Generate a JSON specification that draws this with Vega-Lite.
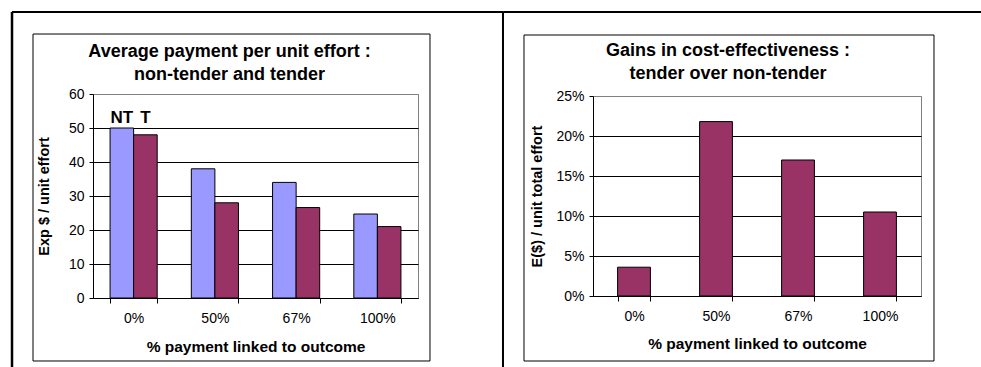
{
  "$schema": "https://vega.github.io/schema/vega-lite/v6.json",
  "background": "white",
  "padding": {"left": 10, "top": 10, "right": 0, "bottom": 0},
  "spacing": 175,
  "bounds": "flush",
  "center": true,
  "hconcat": [
    {
      "width": 325,
      "height": 204,
      "title": {"text": ["Average payment per unit effort :", "non-tender and tender"], "dx": -26, "offset": -73},
      "layer": [
        {
          "data": {"values": [{}]},
          "layer": [
            {
              "mark": {"type": "rect", "fillOpacity": 0, "stroke": "black", "strokeWidth": 1},
              "encoding": {
                "x": {"datum": -0.1846, "type": "quantitative", "scale": {"domain": [0, 1], "nice": false, "zero": false}, "axis": null},
                "x2": {"datum": 1.0369},
                "y": {"datum": 1.294, "type": "quantitative", "scale": {"domain": [0, 1], "nice": false, "zero": false}, "axis": null},
                "y2": {"datum": -0.3088}
              }
            },
            {
              "mark": {"type": "rule", "stroke": "black", "strokeWidth": 2.5},
              "encoding": {
                "x": {"datum": -0.2492, "type": "quantitative"},
                "y": {"datum": 1.402, "type": "quantitative"},
                "y2": {"datum": -0.45}
              }
            },
            {
              "mark": {"type": "rule", "stroke": "black", "strokeWidth": 2},
              "encoding": {
                "y": {"datum": 1.402, "type": "quantitative"},
                "x": {"datum": -0.2492, "type": "quantitative"},
                "x2": {"datum": 1.2615}
              }
            },
            {
              "mark": {"type": "rule", "stroke": "black", "strokeWidth": 2},
              "encoding": {
                "x": {"datum": 1.2615, "type": "quantitative"},
                "y": {"datum": 1.402, "type": "quantitative"},
                "y2": {"datum": -0.45}
              }
            }
          ]
        },
        {
          "data": {
            "values": [
              {"pay": "0%", "series": "NT", "value": 50},
              {"pay": "0%", "series": "T", "value": 48},
              {"pay": "50%", "series": "NT", "value": 38},
              {"pay": "50%", "series": "T", "value": 28},
              {"pay": "67%", "series": "NT", "value": 34},
              {"pay": "67%", "series": "T", "value": 26.6},
              {"pay": "100%", "series": "NT", "value": 24.7},
              {"pay": "100%", "series": "T", "value": 21}
            ]
          },
          "layer": [
            {
              "mark": {"type": "bar", "stroke": "black", "strokeWidth": 1},
              "encoding": {
                "x": {
                  "field": "pay", "type": "nominal", "sort": ["0%", "50%", "67%", "100%"],
                  "scale": {"paddingInner": 0.42, "paddingOuter": 0.21},
                  "axis": {"orient": "bottom", "title": "% payment linked to outcome", "titleFontSize": 15.5, "labelAngle": 0, "tickBand": "extent", "tickSize": 5, "labelPadding": 8, "titlePadding": 14, "grid": false}
                },
                "xOffset": {"field": "series", "type": "nominal", "sort": ["NT", "T"]},
                "y": {
                  "field": "value", "type": "quantitative",
                  "scale": {"domain": [0, 60], "nice": false},
                  "axis": {
                    "orient": "left",
                    "title": "Exp $ / unit effort",
                    "values": [0, 10, 20, 30, 40, 50, 60],
                    "labelOverlap": false,
                    "grid": true,
                    "gridColor": {"condition": {"test": "datum.value === 60", "value": "#808080"}, "value": "black"},
                    "tickSize": 4, "labelPadding": 5, "titlePadding": 17
                  }
                },
                "color": {"field": "series", "type": "nominal", "scale": {"domain": ["NT", "T"], "range": ["#9999FF", "#993366"]}, "legend": null}
              }
            },
            {
              "transform": [{"filter": "datum.pay === '0%'"}],
              "mark": {"type": "text", "fontWeight": "bold", "fontSize": 17, "baseline": "middle", "color": "black"},
              "encoding": {
                "x": {"field": "pay", "type": "nominal", "sort": ["0%", "50%", "67%", "100%"]},
                "xOffset": {"field": "series", "type": "nominal", "sort": ["NT", "T"]},
                "y": {
                  "datum": 53, "type": "quantitative",
                  "axis": {
                    "orient": "left",
                    "title": "Exp $ / unit effort",
                    "values": [0, 10, 20, 30, 40, 50, 60],
                    "labelOverlap": false,
                    "grid": true,
                    "gridColor": {"condition": {"test": "datum.value === 60", "value": "#808080"}, "value": "black"},
                    "tickSize": 4, "labelPadding": 5, "titlePadding": 17
                  }
                },
                "text": {"field": "series"}
              }
            }
          ]
        }
      ],
      "resolve": {"scale": {"x": "independent", "y": "independent"}}
    },
    {
      "width": 328,
      "height": 200,
      "title": {"text": ["Gains in cost-effectiveness :", "tender over non-tender"], "dx": -29, "offset": -72},
      "layer": [
        {
          "data": {"values": [{}]},
          "layer": [
            {
              "mark": {"type": "rect", "fillOpacity": 0, "stroke": "black", "strokeWidth": 1},
              "encoding": {
                "x": {"datum": -0.2104, "type": "quantitative", "scale": {"domain": [0, 1], "nice": false, "zero": false}, "axis": null},
                "x2": {"datum": 1.0396},
                "y": {"datum": 1.305, "type": "quantitative", "scale": {"domain": [0, 1], "nice": false, "zero": false}, "axis": null},
                "y2": {"datum": -0.325}
              }
            },
            {
              "mark": {"type": "rule", "stroke": "black", "strokeWidth": 2},
              "encoding": {
                "y": {"datum": 1.42, "type": "quantitative"},
                "x": {"datum": -0.274, "type": "quantitative"},
                "x2": {"datum": 1.25}
              }
            }
          ]
        },
        {
          "data": {
            "values": [
              {"pay": "0%", "gain": 0.036},
              {"pay": "50%", "gain": 0.218},
              {"pay": "67%", "gain": 0.17},
              {"pay": "100%", "gain": 0.105}
            ]
          },
          "mark": {"type": "bar", "stroke": "black", "strokeWidth": 1, "color": "#993366"},
          "encoding": {
            "x": {
              "field": "pay", "type": "nominal", "sort": ["0%", "50%", "67%", "100%"],
              "scale": {"paddingInner": 0.6, "paddingOuter": 0.3},
              "axis": {"orient": "bottom", "title": "% payment linked to outcome", "titleFontSize": 15.5, "labelAngle": 0, "tickBand": "extent", "tickSize": 5, "labelPadding": 8, "titlePadding": 13, "grid": false}
            },
            "y": {
              "field": "gain", "type": "quantitative",
              "scale": {"domain": [0, 0.25], "nice": false},
              "axis": {
                "orient": "left",
                "title": "E($) / unit total effort",
                "format": ".0%",
                "values": [0, 0.05, 0.1, 0.15, 0.2, 0.25],
                "labelOverlap": false,
                "grid": true,
                "gridColor": {"condition": {"test": "datum.value === 0.25", "value": "#808080"}, "value": "black"},
                "tickSize": 4, "labelPadding": 5, "titlePadding": 11
              }
            }
          }
        }
      ],
      "resolve": {"scale": {"x": "independent", "y": "independent"}}
    }
  ],
  "config": {
    "font": "Liberation Sans",
    "view": {"stroke": "#808080", "strokeWidth": 1},
    "axis": {
      "labelFont": "Liberation Sans", "labelFontSize": 14, "labelColor": "black",
      "titleFont": "Liberation Sans", "titleFontSize": 14.5, "titleFontWeight": "bold", "titleColor": "black",
      "domainColor": "black", "tickColor": "black", "gridColor": "black", "gridWidth": 1
    },
    "title": {"font": "Liberation Sans", "fontSize": 18, "fontWeight": "bold", "color": "black", "lineHeight": 23}
  }
}
